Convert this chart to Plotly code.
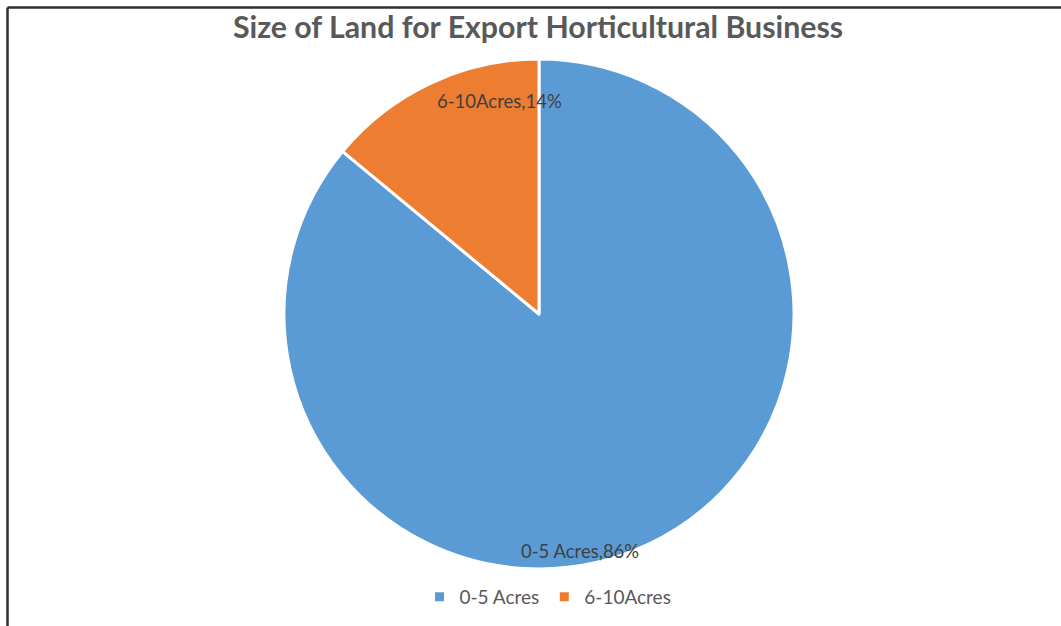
import plotly.graph_objects as go

# Land size categories and their share of export horticultural businesses
categories = ["0-5 Acres", "6-10Acres"]
shares = [86, 14]
colors = ["#5B9BD5", "#ED7D31"]
title_text = "Size of Land for Export Horticultural Business"

W, H = 1061, 626

# Pie geometry in pixels (center and radius)
cx, cy, r = 539, 314, 255

def px_x(x):
    return x / W

def px_y(y):
    return (H - y) / H

fig = go.Figure(
    go.Pie(
        labels=categories,
        values=shares,
        sort=False,
        direction="clockwise",
        rotation=0,
        marker=dict(colors=colors, line=dict(color="white", width=3)),
        textinfo="none",
        hoverinfo="label+percent",
        domain=dict(x=[px_x(cx - r), px_x(cx + r)], y=[px_y(cy + r), px_y(cy - r)]),
    )
)

# Data labels ("category,value%") placed near the outer end of each slice
label_pos = [(580, 551), (499, 101)]
annotations = []
for cat, val, (lx, ly) in zip(categories, shares, label_pos):
    annotations.append(
        dict(
            text=f"{cat},{val}%",
            x=px_x(lx), y=px_y(ly), xref="paper", yref="paper",
            xanchor="center", yanchor="middle", showarrow=False,
            font=dict(family="Lato", size=18.5, color="#404040"),
        )
    )

# Frame lines along the top and left edges
shapes = [
    dict(type="line", xref="paper", yref="paper",
         x0=px_x(7.5), x1=1.01, y0=px_y(7.5), y1=px_y(7.5),
         line=dict(color="#2f2f2f", width=2.5)),
    dict(type="line", xref="paper", yref="paper",
         x0=px_x(7.5), x1=px_x(7.5), y0=px_y(7.5), y1=-0.01,
         line=dict(color="#2f2f2f", width=2.5)),
]

fig.update_layout(
    width=W, height=H,
    margin=dict(l=0, r=0, t=0, b=0),
    paper_bgcolor="white",
    plot_bgcolor="white",
    title=dict(
        text=title_text,
        x=px_x(538), y=px_y(27), xanchor="center", yanchor="middle",
        font=dict(family="Lato", size=30.3, color="#595959", weight="bold"),
    ),
    showlegend=True,
    legend=dict(
        orientation="h",
        x=px_x(548), y=px_y(597), xanchor="center", yanchor="middle",
        font=dict(family="Lato", size=19, color="#595959"),
        itemwidth=30,
        traceorder="normal",
    ),
    annotations=annotations,
    shapes=shapes,
)

fig.write_html("out.html")
